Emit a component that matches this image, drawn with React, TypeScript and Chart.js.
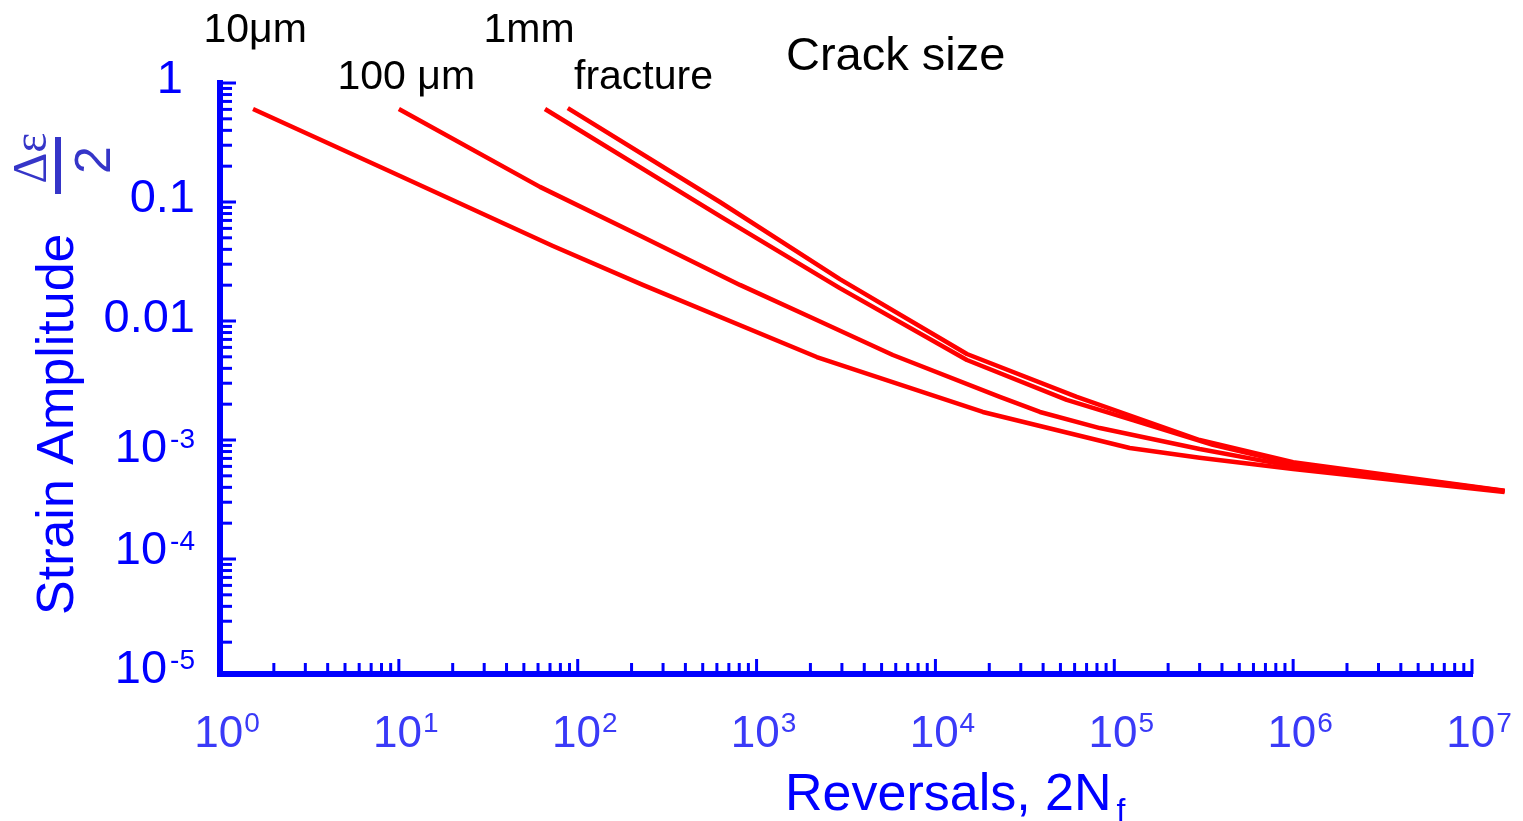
import React, { useEffect, useRef } from 'react';
import { Chart, registerables } from 'chart.js';

Chart.register(...registerables);

// ---- Data ----
const reversals10um = [1.53, 8.58, 72.7, 231, 2170, 18400, 122000, 300000, 1e6, 1.52e7];
const strain10um = [0.605, 0.186, 0.0427, 0.0201, 0.00498, 0.00172, 8.57e-4, 7.1e-4, 5.7e-4, 3.66e-4];

const reversals100um = [10, 61.5, 231, 807, 2170, 5780, 22900, 38400, 83000, 300000, 1e6, 1.52e7];
const strain100um = [0.605, 0.134, 0.0508, 0.0201, 0.0102, 0.00518, 0.0023, 0.00172, 0.00126, 8.4e-4, 6.0e-4, 3.7e-4];

const reversals1mm = [65.6, 624, 2920, 15000, 54200, 127000, 356000, 1e6, 1.52e7];
const strain1mm = [0.605, 0.0762, 0.0189, 0.0047, 0.00217, 0.00147, 9.1e-4, 6.3e-4, 3.72e-4];

const reversalsFracture = [88, 624, 2920, 15000, 61700, 300000, 1e6, 1.52e7];
const strainFracture = [0.616, 0.1, 0.0225, 0.00528, 0.0023, 0.001, 6.5e-4, 3.75e-4];

const seriesNames = ['10μm', '100 μm', '1mm', 'fracture'];

const xTickValues = [1, 10, 100, 1e3, 1e4, 1e5, 1e6, 1e7];
const xTickBases = ['10', '10', '10', '10', '10', '10', '10', '10'];
const xTickExponents = ['0', '1', '2', '3', '4', '5', '6', '7'];

const yTickValues = [1, 0.1, 0.01, 1e-3, 1e-4, 1e-5];
const yTickBases = ['1', '0.1', '0.01', '10', '10', '10'];
const yTickExponents = ['', '', '', '-3', '-4', '-5'];

const X_MIN = 1;
const X_MAX = 1e7;
const Y_MIN = 1e-5;
const Y_MAX = 1;

// ---- Styles ----
const SANS = '"Liberation Sans", Arial, Helvetica, sans-serif';
const SERIF = '"Liberation Serif", "Times New Roman", serif';
const AXIS_BLUE = '#0000ff';
const XTICK_BLUE = '#3a3af8';
const FRACTION_BLUE = '#3535c8';
const LINE_RED = '#ff0000';

// per-label nudges of the y tick labels (dx, dy from tick pixel)
const yLabelDx = [-12, 0, 0, 0, 0, 0];
const yLabelDy = [10, 10, 11, 22, 5, 5];

type Run = { t: string; size: number; dy?: number; family?: string; gap?: number };

function drawRuns(
  ctx: CanvasRenderingContext2D,
  runs: Run[],
  x: number,
  y: number,
  align: 'left' | 'right' | 'center',
  color: string
) {
  ctx.textBaseline = 'alphabetic';
  ctx.textAlign = 'left';
  ctx.fillStyle = color;
  const widths = runs.map((r) => {
    ctx.font = `${r.size}px ${r.family || SANS}`;
    return ctx.measureText(r.t).width + (r.gap || 0);
  });
  const total = widths.reduce((a, b) => a + b, 0);
  let cx = align === 'left' ? x : align === 'right' ? x - total : x - total / 2;
  runs.forEach((r, i) => {
    ctx.font = `${r.size}px ${r.family || SANS}`;
    ctx.fillText(r.t, cx + (r.gap || 0), y + (r.dy || 0));
    cx += widths[i];
  });
}

const decorPlugin = {
  id: 'decor',
  afterDraw(chart: any) {
    const ctx: CanvasRenderingContext2D = chart.ctx;
    const xs = chart.scales.x;
    const ys = chart.scales.y;
    const left = xs.getPixelForValue(X_MIN);
    const right = xs.getPixelForValue(X_MAX);
    const top = ys.getPixelForValue(Y_MAX);
    const bottom = ys.getPixelForValue(Y_MIN);
    const xAxisY = bottom - 4;

    ctx.save();
    ctx.strokeStyle = AXIS_BLUE;
    ctx.lineCap = 'butt';

    // axis lines
    ctx.lineWidth = 6;
    ctx.beginPath();
    ctx.moveTo(left, top - 3);
    ctx.lineTo(left, xAxisY + 3);
    ctx.stroke();
    ctx.beginPath();
    ctx.moveTo(left - 3, xAxisY);
    ctx.lineTo(right + 1, xAxisY);
    ctx.stroke();

    // y ticks (inside)
    ctx.lineWidth = 3;
    for (let e = -5; e <= 0; e++) {
      for (let m = 1; m <= 9; m++) {
        if (e === 0 && m > 1) break;
        if (e === -5 && m === 1) continue;
        const v = m * Math.pow(10, e);
        const py = ys.getPixelForValue(v);
        const len = m === 1 ? 16 : 12;
        ctx.beginPath();
        ctx.moveTo(left, py);
        ctx.lineTo(left + len, py);
        ctx.stroke();
      }
    }
    // x ticks (inside)
    for (let e = 0; e <= 7; e++) {
      for (let m = 1; m <= 9; m++) {
        if (e === 7 && m > 1) break;
        if (e === 0 && m === 1) continue;
        const v = m * Math.pow(10, e);
        const px = xs.getPixelForValue(v);
        const len = m === 1 ? 15 : 11;
        ctx.beginPath();
        ctx.moveTo(px, xAxisY);
        ctx.lineTo(px, xAxisY - len);
        ctx.stroke();
      }
    }

    // x tick labels
    xTickValues.forEach((v, i) => {
      const px = xs.getPixelForValue(v);
      drawRuns(
        ctx,
        [
          { t: xTickBases[i], size: 44 },
          { t: xTickExponents[i], size: 28, dy: -15, gap: 1 },
        ],
        px + 7,
        xAxisY + 73,
        'center',
        XTICK_BLUE
      );
    });

    // y tick labels
    yTickValues.forEach((v, i) => {
      const py = ys.getPixelForValue(v);
      const runs: Run[] = [{ t: yTickBases[i], size: 47 }];
      if (yTickExponents[i]) runs.push({ t: yTickExponents[i], size: 28, dy: -14, gap: 3 });
      drawRuns(ctx, runs, left - 25 + yLabelDx[i], py + yLabelDy[i], 'right', AXIS_BLUE);
    });

    // x axis title
    ctx.fillStyle = AXIS_BLUE;
    ctx.font = `52px ${SANS}`;
    ctx.textAlign = 'left';
    ctx.textBaseline = 'alphabetic';
    const t1 = 'Reversals, 2N';
    ctx.fillText(t1, 785, 810);
    const w1 = ctx.measureText(t1).width;
    ctx.font = `32px ${SANS}`;
    ctx.fillText('f', 785 + w1 + 5, 821);

    // y axis title (rotated)
    ctx.save();
    ctx.translate(73, 615);
    ctx.rotate(-Math.PI / 2);
    ctx.font = `52px ${SANS}`;
    ctx.fillStyle = AXIS_BLUE;
    ctx.textAlign = 'left';
    ctx.fillText('Strain Amplitude', 0, 0);
    ctx.restore();

    // fraction Δε / 2 (rotated)
    ctx.fillStyle = FRACTION_BLUE;
    ctx.save();
    ctx.translate(46, 158);
    ctx.rotate(-Math.PI / 2);
    ctx.font = `48px ${SERIF}`;
    ctx.textAlign = 'center';
    ctx.fillText('Δε', 0, 0);
    ctx.restore();
    ctx.fillRect(55, 137, 6, 57);
    ctx.save();
    ctx.translate(110, 160);
    ctx.rotate(-Math.PI / 2);
    ctx.font = `50px ${SANS}`;
    ctx.textAlign = 'center';
    ctx.fillText('2', 0, 0);
    ctx.restore();

    // crack size labels
    ctx.fillStyle = '#000000';
    ctx.textAlign = 'left';
    ctx.font = `41px ${SANS}`;
    ctx.fillText(seriesNames[0], 203.5, 42);
    ctx.fillText(seriesNames[1], 337.5, 89);
    ctx.fillText(seriesNames[2], 483.5, 42);
    ctx.fillText(seriesNames[3], 574, 89);
    ctx.font = `47px ${SANS}`;
    ctx.fillText('Crack size', 786, 70);

    ctx.restore();
  },
};

function toPoints(xs: number[], ys: number[]) {
  return xs.map((x, i) => ({ x, y: ys[i] }));
}

export default function App() {
  const canvasRef = useRef<HTMLCanvasElement | null>(null);

  useEffect(() => {
    if (!canvasRef.current) return;
    const series = [
      toPoints(reversals10um, strain10um),
      toPoints(reversals100um, strain100um),
      toPoints(reversals1mm, strain1mm),
      toPoints(reversalsFracture, strainFracture),
    ];
    const chart = new Chart(canvasRef.current, {
      type: 'line',
      data: {
        datasets: series.map((pts, i) => ({
          label: seriesNames[i],
          data: pts,
          borderColor: LINE_RED,
          backgroundColor: LINE_RED,
          borderWidth: 4.5,
          pointRadius: 0,
          pointHoverRadius: 0,
          tension: 0,
          fill: false,
          clip: false as any,
          borderJoinStyle: 'round' as const,
        })),
      },
      options: {
        responsive: false,
        animation: false,
        events: [],
        layout: { padding: { left: 220, right: 51, top: 83, bottom: 143 } },
        scales: {
          x: { type: 'logarithmic', min: X_MIN, max: X_MAX, display: false },
          y: { type: 'logarithmic', min: Y_MIN, max: Y_MAX, display: false },
        },
        plugins: {
          legend: { display: false },
          tooltip: { enabled: false },
          title: { display: false },
        },
      },
      plugins: [decorPlugin],
    });
    return () => chart.destroy();
  }, []);

  return (
    <div style={{ position: 'absolute', left: 0, top: 0, width: 1523, height: 821, background: '#fff' }}>
      <canvas ref={canvasRef} width={1523} height={821} style={{ display: 'block' }} />
    </div>
  );
}
